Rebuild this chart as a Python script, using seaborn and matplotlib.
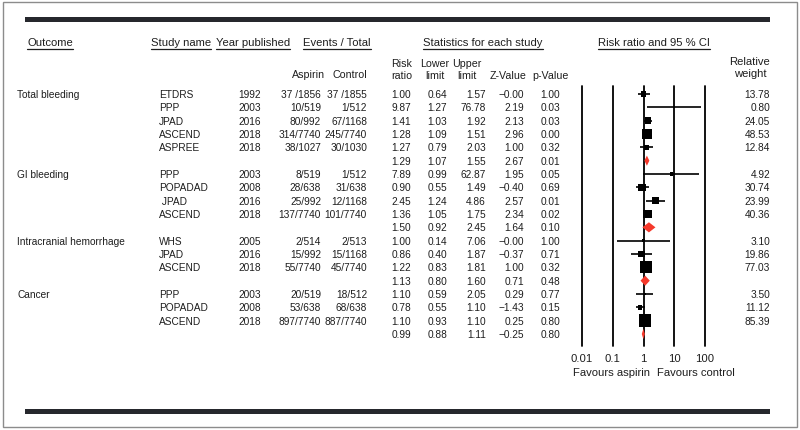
import numpy as np
import pandas as pd
import seaborn as sns
import matplotlib
matplotlib.use("Agg")
import matplotlib.pyplot as plt
from matplotlib.patches import Polygon, Rectangle
from matplotlib.ticker import NullLocator

# ---- data ----
outcome = ["Total bleeding", "", "", "", "", "",
           "GI bleeding", "", "", "", "",
           "Intracranial hemorrhage", "", "", "",
           "Cancer", "", "", ""]
study = ["ETDRS", "PPP", "JPAD", "ASCEND", "ASPREE", "",
         "PPP", "POPADAD", " JPAD", "ASCEND", "",
         "WHS", "JPAD", "ASCEND", "",
         "PPP", "POPADAD", "ASCEND", ""]
year = ["1992", "2003", "2016", "2018", "2018", "",
        "2003", "2008", "2016", "2018", "",
        "2005", "2016", "2018", "",
        "2003", "2008", "2018", ""]
aspirin = ["37 /1856", "10/519", "80/992", "314/7740", "38/1027", "",
           "8/519", "28/638", "25/992", "137/7740", "",
           "2/514", "15/992", "55/7740", "",
           "20/519", "53/638", "897/7740", ""]
control = ["37 /1855", "1/512", "67/1168", "245/7740", "30/1030", "",
           "1/512", "31/638", "12/1168", "101/7740", "",
           "2/513", "15/1168", "45/7740", "",
           "18/512", "68/638", "887/7740", ""]
risk_ratio = [1.00, 9.87, 1.41, 1.28, 1.27, 1.29,
              7.89, 0.90, 2.45, 1.36, 1.50,
              1.00, 0.86, 1.22, 1.13,
              1.10, 0.78, 1.10, 0.99]
lower = [0.64, 1.27, 1.03, 1.09, 0.79, 1.07,
         0.99, 0.55, 1.24, 1.05, 0.92,
         0.14, 0.40, 0.83, 0.80,
         0.59, 0.55, 0.93, 0.88]
upper = [1.57, 76.78, 1.92, 1.51, 2.03, 1.55,
         62.87, 1.49, 4.86, 1.75, 2.45,
         7.06, 1.87, 1.81, 1.60,
         2.05, 1.10, 1.10, 1.11]
z_value = [-0.0, 2.19, 2.13, 2.96, 1.00, 2.67,
           1.95, -0.40, 2.57, 2.34, 1.64,
           -0.0, -0.37, 1.00, 0.71,
           0.29, -1.43, 0.25, -0.25]
p_value = [1.00, 0.03, 0.03, 0.00, 0.32, 0.01,
           0.05, 0.69, 0.01, 0.02, 0.10,
           1.00, 0.71, 0.32, 0.48,
           0.77, 0.15, 0.80, 0.80]
weight = [13.78, 0.80, 24.05, 48.53, 12.84, np.nan,
          4.92, 30.74, 23.99, 40.36, np.nan,
          3.10, 19.86, 77.03, np.nan,
          3.50, 11.12, 85.39, np.nan]
ticks = [0.01, 0.1, 1, 10, 100]
tick_labels = ["0.01", "0.1", "1", "10", "100"]

df = pd.DataFrame(dict(outcome=outcome, study=study, year=year, aspirin=aspirin,
                       control=control, rr=risk_ratio, lower=lower, upper=upper,
                       z=z_value, p=p_value, weight=weight))
df["row"] = np.arange(len(df))
df["summary"] = df["study"] == ""

sns.set_theme(style="white")
plt.rcParams["font.family"] = ["Liberation Sans", "DejaVu Sans"]

TXT = "#1e1e1e"
RED = "#f5392b"
DATA_FS = 7.3
SUB_FS = 7.7
HEAD_FS = 8.1

fig = plt.figure(figsize=(8, 4.31), dpi=100)
tab = fig.add_axes([0, 0, 1, 1])
tab.set_xlim(0, 800)
tab.set_ylim(431, 0)
tab.axis("off")

# frame and heavy rules
tab.add_patch(Rectangle((3, 3), 794, 425, fill=False, ec="#8c8c8c", lw=1))
tab.add_patch(Rectangle((25, 17.5), 745, 5, fc="#26282d", ec="none"))
tab.add_patch(Rectangle((25, 410.5), 745, 5, fc="#26282d", ec="none"))

# top headers (underlined)
heads = [("Outcome", 50), ("Study name", 181), ("Year published", 253),
         ("Events / Total", 337), ("Statistics for each study", 483),
         ("Risk ratio and 95 % CI", 654)]
head_txt = [tab.text(x, 43, s, ha="center", va="center", fontsize=HEAD_FS, color=TXT)
            for s, x in heads]

# sub headers
sub = [("Aspirin", 309, 75), ("Control", 350, 75),
       ("Risk\nratio", 402, 70), ("Lower\nlimit", 435, 70), ("Upper\nlimit", 467, 70),
       ("Z-Value", 508, 76), ("p-Value", 550, 76)]
for s, x, y in sub:
    tab.text(x, y, s, ha="center", va="center", fontsize=SUB_FS, color=TXT,
             linespacing=1.3)
tab.text(750, 68, "Relative\nweight", ha="center", va="center", fontsize=HEAD_FS,
         color=TXT, linespacing=1.25)

# table body
row_y = 95 + 13.33 * df["row"].to_numpy()
for i, r in df.iterrows():
    y = row_y[i]
    kw = dict(va="center", fontsize=DATA_FS, color=TXT)
    tab.text(17, y, r["outcome"], ha="left", **kw)
    tab.text(159, y, r["study"], ha="left", **kw)
    tab.text(250, y, r["year"], ha="center", **kw)
    tab.text(321, y, r["aspirin"], ha="right", **kw)
    tab.text(367, y, r["control"], ha="right", **kw)
    tab.text(411, y, f"{r['rr']:.2f}", ha="right", **kw)
    tab.text(447, y, f"{r['lower']:.2f}", ha="right", **kw)
    tab.text(486, y, f"{r['upper']:.2f}", ha="right", **kw)
    tab.text(524, y, f"{r['z']:.2f}".replace("-", "\u2212"), ha="right", **kw)
    tab.text(560, y, f"{r['p']:.2f}", ha="right", **kw)
    if not r["summary"]:
        tab.text(770, y, f"{r['weight']:.2f}", ha="right", **kw)

tab.text(650, 373, "Favours aspirin", ha="right", va="center", fontsize=HEAD_FS, color=TXT)
tab.text(657, 373, "Favours control", ha="left", va="center", fontsize=HEAD_FS, color=TXT)

# forest panel
fax = fig.add_axes([582 / 800, (431 - 347) / 431, 123 / 800, 260 / 431])
fax.set_xscale("log")
for t in ticks:
    fax.axvline(t, color="black", lw=1.3, clip_on=False, zorder=1)

studies = df[~df["summary"]]
fax.hlines(studies["row"], studies["lower"], studies["upper"], color="black",
           lw=1.2, zorder=2)
sns.scatterplot(data=studies, x="rr", y="row", size="weight",
                sizes=(0.95 * studies["weight"].min(), 0.95 * studies["weight"].max()),
                size_norm=(studies["weight"].min(), studies["weight"].max()),
                marker="s", color="black", linewidth=0, legend=False, ax=fax, zorder=3)
for _, r in df[df["summary"]].iterrows():
    fax.add_patch(Polygon([(r["lower"], r["row"]), (r["rr"], r["row"] - 0.38),
                           (r["upper"], r["row"]), (r["rr"], r["row"] + 0.38)],
                          closed=True, fc=RED, ec="none", zorder=4))

fax.set_xlim(0.01, 100)
fax.set_ylim(len(df) - 0.1, -0.6)
fax.set_xticks(ticks)
fax.set_xticklabels(tick_labels)
fax.xaxis.set_minor_locator(NullLocator())
fax.set_yticks([])
fax.tick_params(axis="x", length=0, pad=5, labelsize=HEAD_FS, colors=TXT)
fax.set_xlabel("")
fax.set_ylabel("")
fax.patch.set_alpha(0)
for sp in fax.spines.values():
    sp.set_visible(False)

# underline the top headers
fig.canvas.draw()
inv = tab.transData.inverted()
for t in head_txt:
    bb = t.get_window_extent()
    (x0, _), (x1, _) = inv.transform([[bb.x0, bb.y0], [bb.x1, bb.y0]])
    tab.plot([x0, x1], [50, 50], color=TXT, lw=0.9)

fig.savefig("out.png", dpi=100)
